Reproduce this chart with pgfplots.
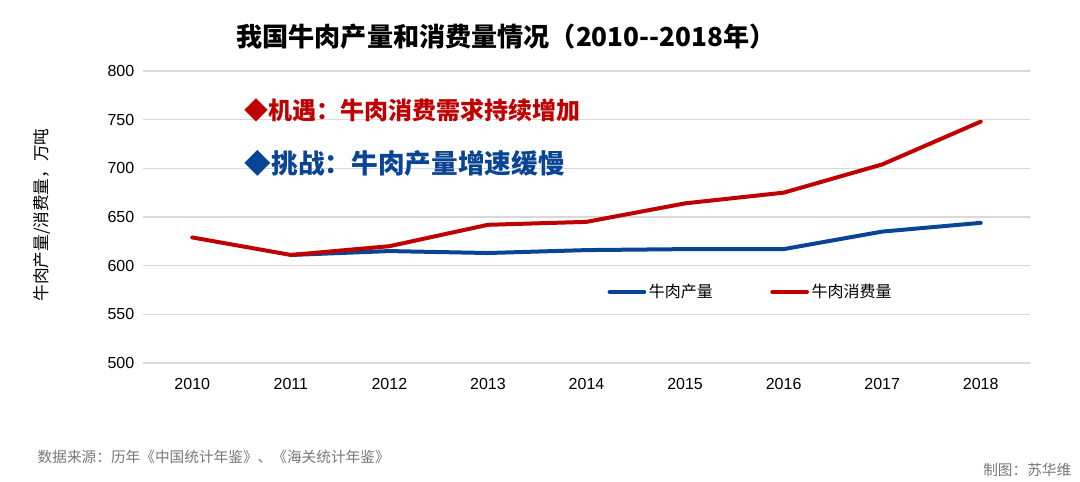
\documentclass[border=0pt]{standalone}
\usepackage{fontspec}
\setmainfont{Liberation Sans}
\newfontfamily\cjk{Noto Sans CJK SC}
\usepackage{pgfplots}
\pgfplotsset{compat=1.18}
\definecolor{myred}{RGB}{192,0,0}
\definecolor{myblue}{RGB}{10,68,148}
\definecolor{gridgray}{RGB}{217,217,217}
\definecolor{footgray}{RGB}{120,120,120}
\begin{document}
\begin{tikzpicture}[x=0.75pt,y=-0.75pt]
\fill[white] (0,0) rectangle (1080,481);
\begin{axis}[
  at={(107.25pt,-272.25pt)}, anchor=south west,
  scale only axis, width=665.25pt, height=219pt,
  xmin=2009.5, xmax=2018.5, ymin=500, ymax=800,
  xtick={2010,2011,2012,2013,2014,2015,2016,2017,2018},
  xticklabels={2010,2011,2012,2013,2014,2015,2016,2017,2018},
  ytick={500,550,600,650,700,750,800},
  axis line style={draw=none},
  major tick length=0pt,
  ymajorgrids, grid style={gridgray, line width=1.1pt},
  tick label style={font=\fontsize{12pt}{14pt}\selectfont, /pgf/number format/assume math mode=true},
  yticklabel style={xshift=-3pt},
  xticklabel style={yshift=-8pt},
  legend columns=2,
  legend style={draw=none, fill=none, at={(0.519,0.243)}, anchor=west,
    font=\cjk\fontsize{12pt}{14pt}\selectfont,
    /tikz/every even column/.append style={column sep=41pt}},
  legend cell align=left,
  legend image code/.code={\draw[#1, line width=3pt] (0pt,0pt) -- (26pt,0pt);},
]
\addplot[myblue, line width=3pt, line join=round, line cap=round] coordinates {
(2011,611) (2012,615) (2013,613) (2014,616) (2015,617) (2016,617) (2017,635) (2018,644)};
\addlegendentry{牛肉产量}
\addplot[myred, line width=3pt, line join=round, line cap=round] coordinates {
(2010,629) (2011,611) (2012,620) (2013,642) (2014,645) (2015,664) (2016,675) (2017,704) (2018,748)};
\addlegendentry{牛肉消费量}
\end{axis}
\node[anchor=center, font=\cjk\bfseries\fontsize{19.6pt}{22pt}\selectfont] at (506,37) {我国牛肉产量和消费量情况（2010-{}-2018年）};
\node[anchor=west, text=myred, font=\cjk\bfseries\fontsize{18pt}{21pt}\selectfont] at (240,110) {◆机遇：牛肉消费需求持续增加};
\node[anchor=west, text=myblue, font=\cjk\bfseries\fontsize{20pt}{23pt}\selectfont] at (240,163) {◆挑战：牛肉产量增速缓慢};
\node[rotate=90, font=\cjk\fontsize{12.5pt}{14pt}\selectfont] at (42,215) {牛肉产量/消费量，万吨};
\node[anchor=west, text=footgray, font=\cjk\fontsize{11pt}{13pt}\selectfont] at (33,457) {数据来源：历年《中国统计年鉴》、《海关统计年鉴》};
\node[anchor=east, text=footgray, font=\cjk\fontsize{11pt}{13pt}\selectfont] at (1076,470) {制图：苏华维};
\end{tikzpicture}
\end{document}
